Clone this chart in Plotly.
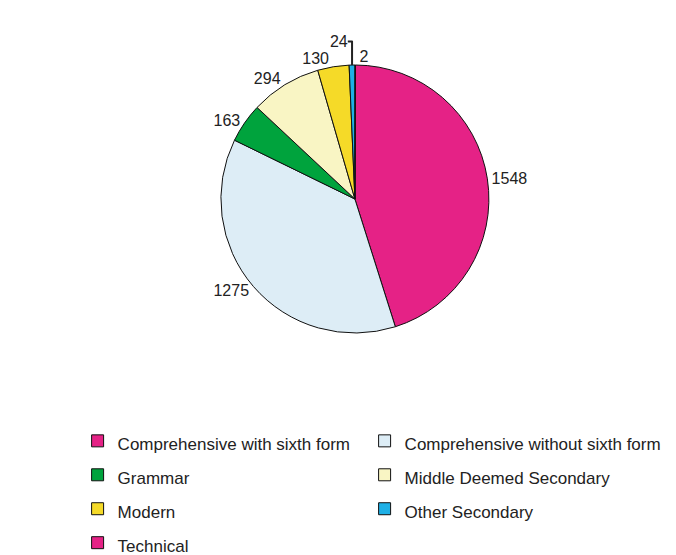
import plotly.graph_objects as go

# School types and number of schools
categories = [
    "Comprehensive with sixth form",
    "Comprehensive without sixth form",
    "Grammar",
    "Middle Deemed Secondary",
    "Modern",
    "Other Secondary",
    "Technical",
]
counts = [1548, 1275, 163, 294, 130, 24, 2]
colors = ["#E52286", "#DDEDF6", "#00A33D", "#F9F5C4", "#F5DA28", "#1EB0E6", "#E52286"]

FONT = "Liberation Sans, Arial, Helvetica, sans-serif"

# legend text is drawn smaller than the legend font so rows get extra spacing
legend_labels = [f'<span style="font-size:17px">{c}</span>' for c in categories]

fig = go.Figure(
    go.Pie(
        labels=legend_labels,
        values=counts,
        sort=False,
        direction="clockwise",
        rotation=0.25,
        marker=dict(colors=colors, line=dict(color="#111111", width=1)),
        textinfo="value",
        textposition="outside",
        outsidetextfont=dict(family=FONT, size=16, color="#222222"),
        domain=dict(x=[0.2, 0.85], y=[0, 1]),
        hoverinfo="label+value+percent",
    )
)

fig.update_layout(
    width=676,
    height=555,
    margin=dict(l=0, r=0, t=65, b=222, autoexpand=False),
    paper_bgcolor="white",
    plot_bgcolor="white",
    font=dict(family=FONT, color="#222222"),
    showlegend=True,
    legend=dict(
        orientation="h",
        x=0.1148,
        xanchor="left",
        y=-0.238,
        yanchor="top",
        entrywidth=242,
        entrywidthmode="pixels",
        itemwidth=30,
        font=dict(family=FONT, size=23.8, color="#222222"),
        # blank title keeps the legend box wide enough for the second column
        title=dict(text="\u00a0" * 130, side="top", font=dict(family=FONT, size=17)),
        traceorder="normal",
    ),
)

fig.write_html("out.html")
